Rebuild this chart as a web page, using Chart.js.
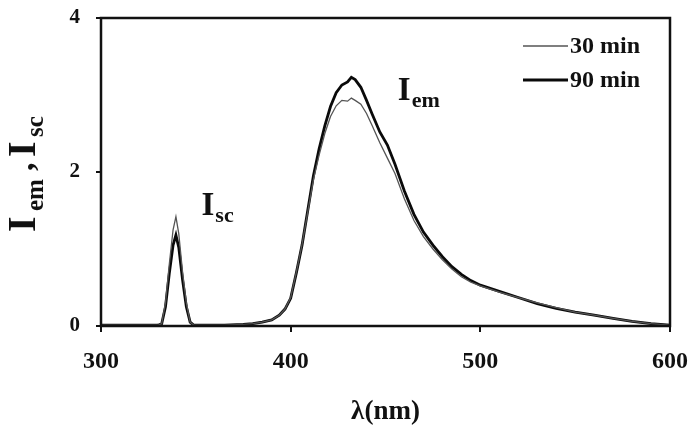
<!DOCTYPE html>
<html>
<head>
<meta charset="utf-8">
<script src="https://cdn.jsdelivr.net/npm/chart.js@4.4.1/dist/chart.umd.min.js"></script>
<style>
  html, body { margin: 0; padding: 0; background: #fff; }
  #wrap { width: 698px; height: 426px; position: relative; }
</style>
</head>
<body>
<div id="wrap"><canvas id="spec"></canvas></div>
<script>
// wavelength (nm) and intensities
const wavelengths = [300, 310, 320, 330, 332, 334, 336, 338, 339.5, 341, 343, 345, 347, 349, 355, 365, 375, 380, 385, 390, 394, 397, 400, 403, 406, 409, 412, 415, 418, 421, 424, 427, 430, 432, 434, 437, 440, 443, 447, 451, 455, 460, 465, 470, 475, 480, 485, 490, 495, 500, 510, 520, 530, 540, 550, 560, 570, 580, 590, 600];
const min30 = [0.01, 0.01, 0.01, 0.01, 0.03, 0.3, 0.8, 1.25, 1.42, 1.2, 0.7, 0.3, 0.05, 0.01, 0.01, 0.01, 0.02, 0.03, 0.05, 0.08, 0.14, 0.22, 0.37, 0.7, 1.06, 1.48, 1.9, 2.22, 2.5, 2.72, 2.86, 2.93, 2.92, 2.96, 2.93, 2.88, 2.76, 2.6, 2.38, 2.18, 1.98, 1.65, 1.37, 1.16, 1.0, 0.86, 0.74, 0.64, 0.57, 0.52, 0.44, 0.37, 0.3, 0.24, 0.18, 0.14, 0.1, 0.06, 0.03, 0.01];
const min90 = [0.01, 0.01, 0.01, 0.01, 0.03, 0.25, 0.68, 1.05, 1.18, 1.02, 0.6, 0.25, 0.05, 0.01, 0.01, 0.01, 0.02, 0.03, 0.05, 0.08, 0.14, 0.22, 0.36, 0.69, 1.05, 1.5, 1.95, 2.3, 2.6, 2.85, 3.03, 3.13, 3.17, 3.23, 3.2, 3.1, 2.93, 2.75, 2.52, 2.35, 2.1, 1.75, 1.45, 1.22, 1.05, 0.9, 0.77, 0.67, 0.59, 0.53, 0.45, 0.37, 0.29, 0.23, 0.18, 0.14, 0.1, 0.06, 0.03, 0.01];
const seriesNames = ['30 min', '90 min'];
const xTicks = [300, 400, 500, 600];
const yTicks = [0, 2, 4];

const SERIF = "'Liberation Serif', 'Times New Roman', serif";

// draws "I" with a subscript, left/baseline anchored at (x, y)
function subText(ctx, x, y, main, sub, big, small, drop) {
  ctx.font = `bold ${big}px ${SERIF}`;
  ctx.fillText(main, x, y);
  const w = ctx.measureText(main).width;
  ctx.font = `bold ${small}px ${SERIF}`;
  ctx.fillText(sub, x + w + 1, y + drop);
}

function noPad(s) {
  s.paddingTop = 0;
  s.paddingBottom = 0;
  s.paddingLeft = 0;
  s.paddingRight = 0;
}

const decor = {
  id: 'decor',
  afterDraw(chart) {
    const { ctx, chartArea: a, scales } = chart;
    ctx.save();
    // frame
    ctx.strokeStyle = '#111';
    ctx.lineWidth = 2.5;
    ctx.strokeRect(a.left, a.top, a.right - a.left, a.bottom - a.top);

    ctx.fillStyle = '#111';
    ctx.textAlign = 'left';
    ctx.textBaseline = 'alphabetic';

    // peak labels
    const xs = scales.x, ys = scales.y;
    subText(ctx, xs.getPixelForValue(353), ys.getPixelForValue(1.44), 'I', 'sc', 33, 22, 7);
    subText(ctx, xs.getPixelForValue(456.5), ys.getPixelForValue(2.94), 'I', 'em', 33, 22, 7);

    // legend
    const lx = a.left + 422;
    chart.data.datasets.forEach((ds, i) => {
      const ly = a.top + 28 + i * 34;
      ctx.strokeStyle = ds.borderColor;
      ctx.lineWidth = ds.borderWidth;
      ctx.beginPath();
      ctx.moveTo(lx, ly);
      ctx.lineTo(lx + 45, ly);
      ctx.stroke();
      ctx.font = `bold 24px ${SERIF}`;
      ctx.textBaseline = 'middle';
      ctx.fillText(ds.label, lx + 47, ly + 1);
      ctx.textBaseline = 'alphabetic';
    });

    // y axis title: I_em , I_sc (rotated)
    ctx.translate(35, 232);
    ctx.rotate(-Math.PI / 2);
    ctx.font = `bold 40px ${SERIF}`;
    ctx.fillText('I', 0, 0);
    ctx.font = `bold 25px ${SERIF}`;
    ctx.fillText('em', 21, 8);
    ctx.font = `bold 34px ${SERIF}`;
    ctx.fillText(',', 61, -2);
    ctx.font = `bold 40px ${SERIF}`;
    ctx.fillText('I', 75, 0);
    ctx.font = `bold 25px ${SERIF}`;
    ctx.fillText('sc', 95, 8);
    ctx.restore();
  }
};

new Chart(document.getElementById('spec'), {
  type: 'line',
  data: {
    datasets: [
      {
        label: seriesNames[0],
        data: wavelengths.map((w, i) => ({ x: w, y: min30[i] })),
        borderColor: '#555',
        borderWidth: 1.3,
        pointRadius: 0,
        tension: 0,
        fill: false,
      },
      {
        label: seriesNames[1],
        data: wavelengths.map((w, i) => ({ x: w, y: min90[i] })),
        borderColor: '#0a0a0a',
        borderWidth: 2.8,
        pointRadius: 0,
        tension: 0,
        fill: false,
      },
    ],
  },
  options: {
    responsive: true,
    maintainAspectRatio: false,
    animation: false,
    layout: { padding: { top: 18, right: 28, left: 0, bottom: 0 } },
    plugins: { legend: { display: false }, tooltip: { enabled: false } },
    scales: {
      x: {
        type: 'linear',
        min: 300,
        max: 600,
        afterBuildTicks: s => { s.ticks = xTicks.map(v => ({ value: v })); },
        afterFit: s => { s.height = 100; noPad(s); },
        border: { display: false },
        grid: { drawOnChartArea: false, drawTicks: true, tickLength: 6, color: '#111', lineWidth: 2 },
        ticks: {
          color: '#111',
          padding: 15,
          maxRotation: 0,
          font: { family: SERIF, size: 24, weight: 'bold' },
        },
        title: {
          display: true,
          text: 'λ(nm)',
          color: '#111',
          padding: { top: 0, bottom: 0 },
          font: { family: SERIF, size: 27, weight: 'bold', lineHeight: 1 },
        },
      },
      y: {
        min: 0,
        max: 4,
        afterBuildTicks: s => { s.ticks = yTicks.map(v => ({ value: v })); },
        afterFit: s => { s.width = 101; noPad(s); },
        border: { display: false },
        grid: { drawOnChartArea: false, drawTicks: true, tickLength: 5, color: '#111', lineWidth: 2 },
        ticks: {
          color: '#111',
          padding: 16,
          font: { family: SERIF, size: 21, weight: 'bold' },
        },
      },
    },
  },
  plugins: [decor],
});
</script>
</body>
</html>
